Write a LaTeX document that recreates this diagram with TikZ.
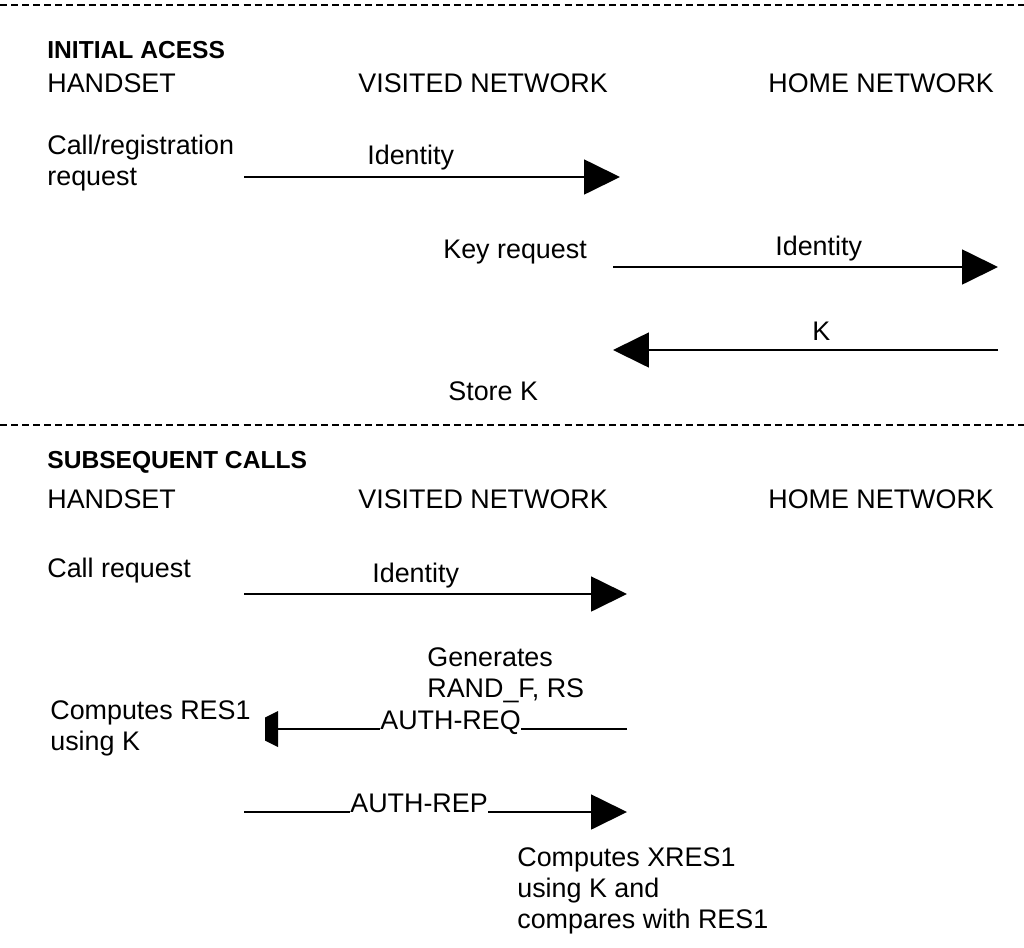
\documentclass[tikz,border=0pt]{standalone}
\usepackage{fontspec}
\setmainfont{Liberation Sans}
\usetikzlibrary{arrows.meta}

\begin{document}
\begin{tikzpicture}[x=0.02cm,y=-0.02cm,
  lbl/.style={inner sep=0pt,anchor=base west,align=left,font=\fontsize{15.3}{17.6}\selectfont},
  head/.style={inner sep=0pt,anchor=base west,font=\fontsize{14}{16}\selectfont\bfseries},
  msg/.style={line width=1.1pt,-{Triangle[length=20.4pt,width=19.8pt]}},
  wire/.style={line width=1.1pt},
  sep/.style={line width=1.1pt,dash pattern=on 4pt off 2.3pt}]
\useasboundingbox (0,0) rectangle (1024,947);

% initial access
\draw[sep] (0,5) -- (1024,5);
\node[head] (ia) at (47,58) {INITIAL ACESS};
\node[lbl] (hs1) at (47,92) {HANDSET};
\node[lbl] (vn1) at (358,92) {VISITED NETWORK};
\node[lbl] (hn1) at (768,92) {HOME NETWORK};

% multi-line nodes sit on their last line
\node[lbl] (callreg) at (47,185) {Call/registration\\request};
\coordinate (id1a) at (244,177);
\coordinate (id1b) at (620,177);
\draw[msg] (id1a) -- (id1b);
\node[lbl] (id1) at (367,164) {Identity};

\node[lbl] (keyreq) at (443,258) {Key request};
\coordinate (id2a) at (613,267);
\coordinate (id2b) at (998,267);
\draw[msg] (id2a) -- (id2b);
\node[lbl] (id2) at (775,255) {Identity};

\coordinate (ka) at (998,350);
\coordinate (kb) at (613,350);
\draw[msg] (ka) -- (kb);
\node[lbl] (k) at (812,340) {K};
\node[lbl] (store) at (448,400) {Store K};

% subsequent calls
\draw[sep] (0,425) -- (1024,425);
\node[head] (sc) at (47,468) {SUBSEQUENT CALLS};
\node[lbl] (hs2) at (47,508) {HANDSET};
\node[lbl] (vn2) at (358,508) {VISITED NETWORK};
\node[lbl] (hn2) at (768,508) {HOME NETWORK};

\node[lbl] (callreq) at (47,577) {Call request};
\coordinate (id3a) at (244,594);
\coordinate (id3b) at (627,594);
\draw[msg] (id3a) -- (id3b);
\node[lbl] (id3) at (372,582) {Identity};

\node[lbl] (gen) at (427,697) {Generates\\RAND\_F, RS};
\node[lbl] (res) at (50,750) {Computes RES1\\using K};
\node[lbl] (areq) at (380,729) {AUTH-REQ};
\coordinate (areqa) at (627,729);
\coordinate (areqb) at (278,729);
\draw[wire] (areqa) -- (areq.base east);
\draw[wire] (areq.base west) -- (areqb);
\fill (278,711) -- (265,717.5) -- (265,740.5) -- (278,747) -- cycle;

\node[lbl] (arep) at (350,812) {AUTH-REP};
\coordinate (arepa) at (244,812);
\coordinate (arepb) at (627,812);
\draw[wire] (arepa) -- (arep.base west);
\draw[msg] (arep.base east) -- (arepb);
\node[lbl] (xres) at (517,928) {Computes XRES1\\using K and\\compares with RES1};
\end{tikzpicture}
\end{document}
